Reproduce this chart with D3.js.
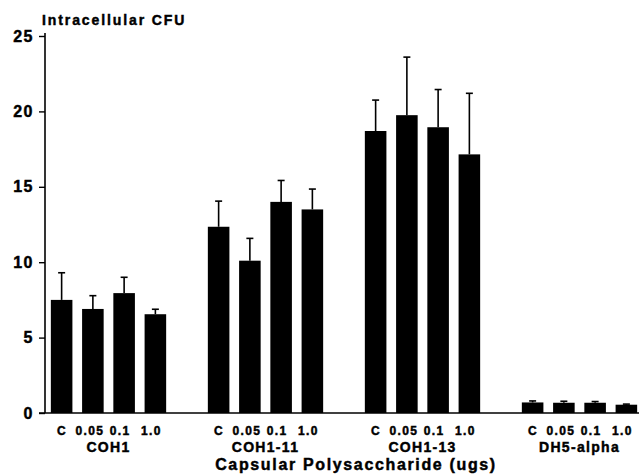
<!DOCTYPE html>
<html>
<head>
<meta charset="utf-8">
<script src="https://cdn.jsdelivr.net/npm/d3@7/dist/d3.min.js"></script>
<style>
  body { margin: 0; background: #fff; }
  text { font-family: "Liberation Sans", Arial, sans-serif; font-weight: bold; fill: #000;
         stroke: #000; stroke-width: 0.45px; }
</style>
</head>
<body>
<div id="chart"></div>
<script>
// strains and capsular polysaccharide doses
var groups = ['COH1', 'COH1-11', 'COH1-13', 'DH5-alpha'];
var doses = ['C', '0.05', '0.1', '1.0'];
var yTicks = [0, 5, 10, 15, 20, 25];

// mean intracellular CFU per dose, one array per strain
var coh1 = [7.5, 6.9, 7.95, 6.55];
var coh1_11 = [12.35, 10.1, 14.0, 13.5];
var coh1_13 = [18.7, 19.75, 18.95, 17.15];
var dh5alpha = [0.7, 0.68, 0.68, 0.55];

// upper error bar length
var coh1Err = [1.8, 0.88, 1.05, 0.33];
var coh1_11Err = [1.7, 1.48, 1.42, 1.35];
var coh1_13Err = [2.05, 3.85, 2.5, 4.05];
var dh5alphaErr = [0.1, 0.1, 0.08, 0.04];

var means = [coh1, coh1_11, coh1_13, dh5alpha];
var errs = [coh1Err, coh1_11Err, coh1_13Err, dh5alphaErr];

var width = 639, height = 474;
var axisX = 45;

var svg = d3.select('#chart').append('svg').attr('width', width).attr('height', height);

var y = d3.scaleLinear().domain([0, 25]).range([413, 36]);
var x0 = d3.scaleBand().domain(groups).range([30, 658]);
var x1 = d3.scaleBand().domain(doses).range([16, 141]).paddingInner(0.31).paddingOuter(0.155);

// y axis
var yAxis = d3.axisLeft(y).tickValues(yTicks).tickSize(6).tickSizeOuter(0).tickPadding(5);
var gy = svg.append('g').attr('transform', 'translate(' + axisX + ',0)').call(yAxis);
gy.select('.domain').attr('stroke', '#000').attr('stroke-width', 1.6)
    .attr('d', 'M0,' + y(0) + 'V' + (y(25) - 3));
gy.selectAll('.tick line').attr('stroke', '#000').attr('stroke-width', 1.4);
gy.selectAll('.tick text').attr('font-size', 16).attr('font-family', '"Liberation Sans", Arial, sans-serif')
    .attr('font-weight', 'bold').attr('letter-spacing', 1.5);

svg.append('text').attr('x', 42).attr('y', 25).attr('font-size', 14).attr('letter-spacing', 1.9)
    .text('Intracellular CFU');

// baseline
svg.append('line').attr('x1', axisX - 6).attr('x2', width).attr('y1', y(0)).attr('y2', y(0))
    .attr('stroke', '#000').attr('stroke-width', 1.6);

var rows = [];
groups.forEach(function(g, gi) {
    doses.forEach(function(d, di) {
        rows.push({ group: g, dose: d, i: di, value: means[gi][di], err: errs[gi][di] });
    });
});

var cx = function(r) { return x0(r.group) + x1(r.dose) + x1.bandwidth() / 2; };

svg.append('g').selectAll('rect').data(rows).enter().append('rect')
    .attr('x', function(r) { return x0(r.group) + x1(r.dose); })
    .attr('y', function(r) { return y(r.value); })
    .attr('width', x1.bandwidth())
    .attr('height', function(r) { return y(0) - y(r.value); })
    .attr('fill', '#000');

var eb = svg.append('g').attr('stroke', '#000').attr('stroke-width', 1.6);
eb.selectAll('line.stem').data(rows).enter().append('line').attr('class', 'stem')
    .attr('x1', cx).attr('x2', cx)
    .attr('y1', function(r) { return y(r.value); })
    .attr('y2', function(r) { return y(r.value + r.err); });
eb.selectAll('line.cap').data(rows).enter().append('line').attr('class', 'cap')
    .attr('x1', function(r) { return cx(r) - 3.5; })
    .attr('x2', function(r) { return cx(r) + 3.5; })
    .attr('y1', function(r) { return y(r.value + r.err); })
    .attr('y2', function(r) { return y(r.value + r.err); });

// dose labels under each bar (typed a little left of the bar centres)
var labelShift = [0.5, -3, -4, -4];
svg.append('g').selectAll('text').data(rows).enter().append('text')
    .attr('x', function(r) { return cx(r) + labelShift[r.i]; }).attr('y', 435)
    .attr('text-anchor', 'middle').attr('font-size', 12).attr('letter-spacing', 1.4)
    .text(function(r) { return r.dose; });

// strain labels
svg.append('g').selectAll('text').data(groups).enter().append('text')
    .attr('x', function(g) { return x0(g) + 16 + 125 / 2; }).attr('y', 452)
    .attr('text-anchor', 'middle').attr('font-size', 14).attr('letter-spacing', 1.3)
    .text(function(g) { return g; });

svg.append('text').attr('x', 356).attr('y', 470).attr('text-anchor', 'middle')
    .attr('font-size', 16).attr('letter-spacing', 1.65)
    .text('Capsular Polysaccharide (ugs)');
</script>
</body>
</html>
